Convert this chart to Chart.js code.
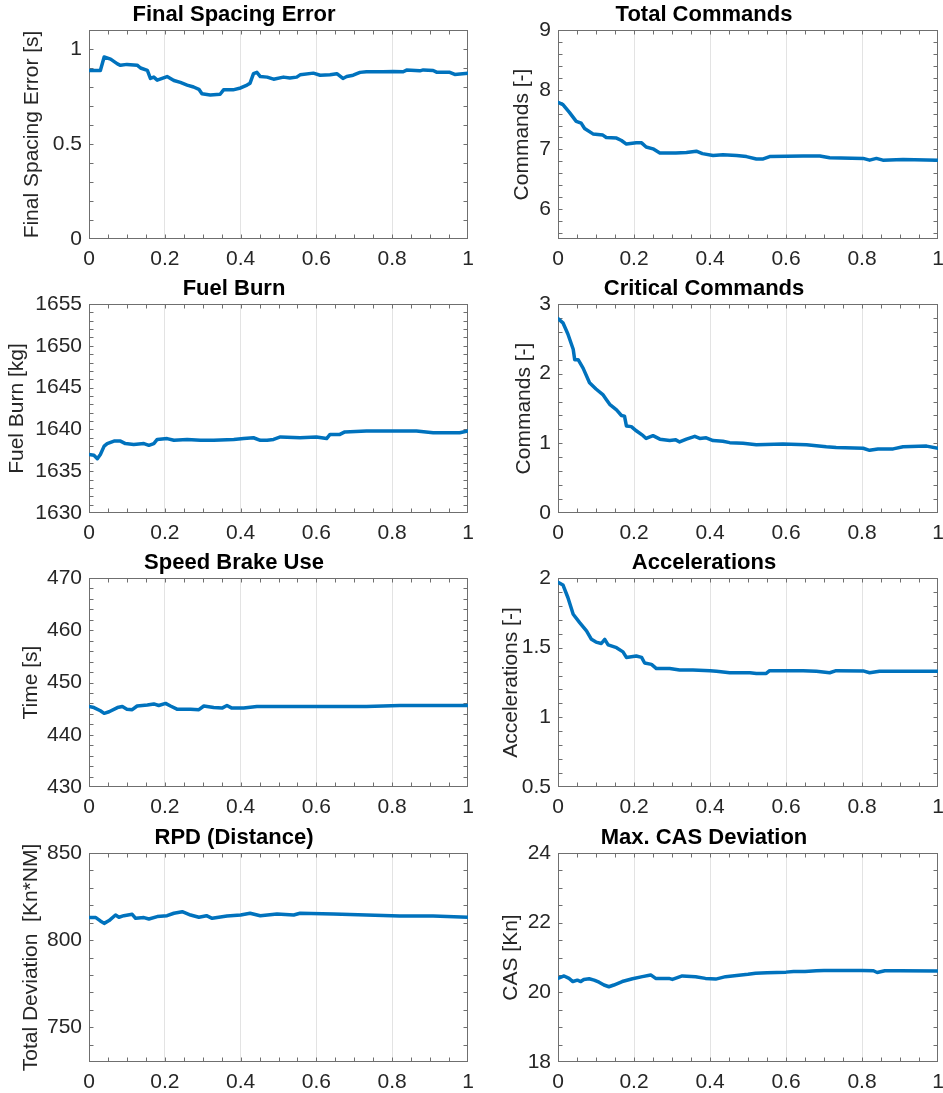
<!DOCTYPE html>
<html>
<head>
<meta charset="utf-8">
<script src="https://cdn.jsdelivr.net/npm/chart.js@4.4.1/dist/chart.umd.min.js"></script>
<style>
  body { margin: 0; background: #fff; }
  #page { position: relative; width: 943px; height: 1093px; overflow: hidden; background: #fff; }
  #page canvas { position: absolute; }
</style>
</head>
<body>
<div id="page"></div>
<script>
// values, x is the common 0..1 axis
const spacingX = [0, 0.03, 0.04, 0.057, 0.075, 0.083, 0.1, 0.127, 0.136, 0.154, 0.162, 0.171, 0.18, 0.206, 0.224, 0.241, 0.259, 0.276, 0.29, 0.298, 0.32, 0.346, 0.355, 0.38, 0.4, 0.417, 0.425, 0.434, 0.443, 0.452, 0.47, 0.487, 0.513, 0.53, 0.548, 0.557, 0.592, 0.61, 0.636, 0.654, 0.67, 0.68, 0.697, 0.715, 0.732, 0.776, 0.803, 0.829, 0.838, 0.873, 0.882, 0.908, 0.917, 0.952, 0.965, 1];
const spacingY = [0.887, 0.887, 0.958, 0.947, 0.922, 0.914, 0.919, 0.915, 0.9, 0.887, 0.845, 0.852, 0.836, 0.855, 0.834, 0.824, 0.81, 0.8, 0.788, 0.764, 0.758, 0.762, 0.785, 0.785, 0.795, 0.81, 0.82, 0.87, 0.877, 0.855, 0.852, 0.841, 0.852, 0.847, 0.852, 0.864, 0.873, 0.862, 0.864, 0.87, 0.845, 0.855, 0.862, 0.877, 0.88, 0.88, 0.882, 0.88, 0.889, 0.885, 0.89, 0.887, 0.878, 0.877, 0.866, 0.873];

const commandsX = [0, 0.013, 0.03, 0.048, 0.061, 0.07, 0.092, 0.118, 0.127, 0.154, 0.167, 0.18, 0.206, 0.22, 0.232, 0.25, 0.268, 0.31, 0.338, 0.364, 0.38, 0.408, 0.434, 0.47, 0.496, 0.522, 0.54, 0.557, 0.645, 0.689, 0.715, 0.803, 0.82, 0.838, 0.855, 0.908, 1];
const commandsY = [7.79, 7.75, 7.62, 7.47, 7.44, 7.35, 7.26, 7.24, 7.2, 7.19, 7.15, 7.09, 7.11, 7.11, 7.04, 7.01, 6.94, 6.94, 6.95, 6.97, 6.93, 6.9, 6.91, 6.9, 6.88, 6.84, 6.84, 6.88, 6.89, 6.89, 6.86, 6.85, 6.82, 6.85, 6.82, 6.83, 6.82];

const fuelX = [0, 0.013, 0.022, 0.03, 0.04, 0.048, 0.066, 0.083, 0.096, 0.118, 0.145, 0.158, 0.171, 0.18, 0.206, 0.224, 0.259, 0.294, 0.329, 0.382, 0.408, 0.434, 0.452, 0.47, 0.487, 0.505, 0.557, 0.6, 0.627, 0.636, 0.662, 0.675, 0.732, 0.82, 0.864, 0.908, 0.978, 1];
const fuelY = [1637.0, 1636.9, 1636.5, 1637.0, 1638.0, 1638.3, 1638.6, 1638.6, 1638.3, 1638.2, 1638.3, 1638.1, 1638.3, 1638.8, 1638.9, 1638.7, 1638.8, 1638.7, 1638.7, 1638.8, 1638.9, 1639.0, 1638.7, 1638.7, 1638.8, 1639.1, 1639.0, 1639.1, 1638.9, 1639.4, 1639.4, 1639.7, 1639.8, 1639.8, 1639.8, 1639.6, 1639.6, 1639.8];

const criticalX = [0, 0.013, 0.026, 0.04, 0.044, 0.053, 0.066, 0.083, 0.1, 0.118, 0.127, 0.136, 0.154, 0.167, 0.175, 0.18, 0.193, 0.206, 0.224, 0.232, 0.25, 0.268, 0.294, 0.31, 0.32, 0.338, 0.36, 0.373, 0.39, 0.408, 0.434, 0.452, 0.487, 0.522, 0.592, 0.654, 0.706, 0.732, 0.803, 0.82, 0.842, 0.882, 0.908, 0.97, 1];
const criticalY = [2.79, 2.73, 2.57, 2.35, 2.2, 2.2, 2.08, 1.87, 1.78, 1.7, 1.63, 1.56, 1.48, 1.4, 1.39, 1.25, 1.24, 1.18, 1.11, 1.07, 1.11, 1.06, 1.04, 1.05, 1.02, 1.06, 1.1, 1.07, 1.08, 1.04, 1.03, 1.01, 1.0, 0.98, 0.99, 0.98, 0.95, 0.94, 0.93, 0.9, 0.92, 0.92, 0.95, 0.96, 0.93];

const brakeX = [0, 0.013, 0.03, 0.04, 0.053, 0.075, 0.088, 0.1, 0.114, 0.127, 0.154, 0.171, 0.184, 0.202, 0.215, 0.232, 0.268, 0.29, 0.303, 0.329, 0.351, 0.364, 0.377, 0.408, 0.443, 0.513, 0.645, 0.732, 0.82, 1];
const brakeY = [445.4, 445.2, 444.6, 444.1, 444.4, 445.2, 445.4, 444.9, 444.8, 445.5, 445.7, 445.9, 445.6, 446.0, 445.5, 444.9, 444.9, 444.8, 445.5, 445.2, 445.1, 445.6, 445.1, 445.1, 445.4, 445.4, 445.4, 445.4, 445.6, 445.6];

const accelX = [0, 0.013, 0.026, 0.04, 0.057, 0.075, 0.088, 0.1, 0.114, 0.123, 0.132, 0.154, 0.171, 0.18, 0.206, 0.22, 0.228, 0.246, 0.259, 0.294, 0.32, 0.355, 0.4, 0.417, 0.452, 0.505, 0.522, 0.548, 0.557, 0.645, 0.68, 0.715, 0.732, 0.803, 0.82, 0.846, 1];
const accelY = [1.97, 1.95, 1.86, 1.74, 1.68, 1.62, 1.56, 1.54, 1.53, 1.56, 1.52, 1.5, 1.47, 1.43, 1.44, 1.43, 1.39, 1.38, 1.35, 1.35, 1.34, 1.34, 1.335, 1.33, 1.32, 1.32, 1.315, 1.315, 1.335, 1.335, 1.33, 1.32, 1.335, 1.333, 1.32, 1.33, 1.33];

const rpdX = [0, 0.018, 0.03, 0.04, 0.053, 0.07, 0.079, 0.092, 0.114, 0.123, 0.145, 0.158, 0.18, 0.206, 0.224, 0.246, 0.268, 0.29, 0.31, 0.325, 0.364, 0.4, 0.425, 0.452, 0.496, 0.54, 0.557, 0.645, 0.732, 0.82, 0.908, 1];
const rpdY = [812.9, 812.9, 811.0, 809.6, 811.2, 814.4, 813.1, 814.0, 814.8, 812.5, 812.9, 812.1, 813.5, 814.0, 815.4, 816.3, 814.4, 813.1, 814.0, 812.5, 813.8, 814.4, 815.4, 814.0, 815.0, 814.4, 815.4, 815.0, 814.4, 813.8, 813.8, 813.1];

const casX = [0, 0.016, 0.029, 0.039, 0.051, 0.06, 0.068, 0.082, 0.095, 0.108, 0.121, 0.134, 0.147, 0.169, 0.196, 0.222, 0.244, 0.257, 0.292, 0.301, 0.327, 0.362, 0.388, 0.415, 0.441, 0.476, 0.5, 0.52, 0.55, 0.6, 0.62, 0.65, 0.68, 0.7, 0.8, 0.83, 0.84, 0.86, 0.9, 1];
const casY = [20.40, 20.47, 20.40, 20.31, 20.35, 20.31, 20.37, 20.39, 20.35, 20.29, 20.21, 20.16, 20.21, 20.31, 20.39, 20.45, 20.5, 20.40, 20.40, 20.37, 20.47, 20.45, 20.40, 20.38, 20.45, 20.49, 20.52, 20.55, 20.56, 20.58, 20.60, 20.60, 20.62, 20.63, 20.63, 20.62, 20.57, 20.62, 20.62, 20.61];

const titles = ['Final Spacing Error', 'Total Commands', 'Fuel Burn', 'Critical Commands',
                'Speed Brake Use', 'Accelerations', 'RPD (Distance)', 'Max. CAS Deviation'];
const yTitles = ['Final Spacing Error [s]', 'Commands [-]', 'Fuel Burn [kg]', 'Commands [-]',
                 'Time [s]', 'Accelerations [-]', 'Total Deviation  [Kn*NM]', 'CAS [Kn]'];
const seriesX = [spacingX, commandsX, fuelX, criticalX, brakeX, accelX, rpdX, casX];
const seriesY = [spacingY, commandsY, fuelY, criticalY, brakeY, accelY, rpdY, casY];
// y axis limits and tick steps [min, max, step, minor step]
const yLimits = [[0, 1.1, 0.5, 0.1], [5.5, 9, 1, 0.2], [1630, 1655, 5, 1], [0, 3, 1, 0.2],
                 [430, 470, 10, 2], [0.5, 2, 0.5, 0.1], [730, 850, 50, 10], [18, 24, 2, 0.5]];
const xTickStep = 0.2;
const xMinorStep = 0.05;

const FONT = "'Liberation Sans', Arial, Helvetica, sans-serif";
const LINE_BLUE = '#0072BD';

// plain matlab-like numbers: 1 not 1.0, 1655 not 1,655
const plainNumber = v => String(Number(v.toFixed(6)));

// box + MATLAB style inward ticks on all four sides
const framePlugin = {
  id: 'frame',
  beforeDatasetsDraw(chart, args, opts) {
    const { ctx, chartArea: a, scales: { x, y } } = chart;
    const L = Math.round(a.left) + 0.5, R = Math.round(a.right) - 0.5;
    const T = Math.round(a.top) + 0.5, B = Math.round(a.bottom) - 0.5;
    ctx.save();
    ctx.strokeStyle = '#6f6f6f';
    ctx.lineWidth = 1;
    ctx.strokeRect(L, T, R - L, B - T);
    ctx.beginPath();
    let n = Math.round((x.max - x.min) / opts.xMinor);
    for (let i = 1; i < n; i++) {
      const px = Math.round(x.getPixelForValue(x.min + i * opts.xMinor)) + 0.5;
      ctx.moveTo(px, B); ctx.lineTo(px, B - 4);
      ctx.moveTo(px, T); ctx.lineTo(px, T + 4);
    }
    const start = Math.ceil(y.min / opts.yMinor - 1e-6) * opts.yMinor;
    n = Math.round((y.max - start) / opts.yMinor);
    for (let i = 0; i <= n; i++) {
      const py = Math.round(y.getPixelForValue(start + i * opts.yMinor)) + 0.5;
      if (py <= T + 1 || py >= B - 1) continue;
      ctx.moveTo(L, py); ctx.lineTo(L + 4, py);
      ctx.moveTo(R, py); ctx.lineTo(R - 4, py);
    }
    ctx.stroke();
    ctx.restore();
  }
};

// canvas placement: columns and rows of the 4x2 grid
const colLeft = [0, 470];
const colWidth = [486, 473];
const colPadRight = [18, 5];
const colAxisWidth = [89, 88];
const rowTop = [0, 274, 548, 823];
const rowHeight = [274, 274, 274, 270];
const yTitlePad = [20, 40, 5, 42, 19, 29, 19, 29];
const AREA_TOP = 30, AREA_BOTTOM = 239;
const TITLE_SIZE = 22;

const page = document.getElementById('page');

titles.forEach((title, i) => {
  const col = i % 2, row = Math.floor(i / 2);
  const canvas = document.createElement('canvas');
  canvas.width = colWidth[col];
  canvas.height = rowHeight[row];
  canvas.style.left = colLeft[col] + 'px';
  canvas.style.top = rowTop[row] + 'px';
  canvas.style.width = colWidth[col] + 'px';
  canvas.style.height = rowHeight[row] + 'px';
  page.appendChild(canvas);

  const xs = seriesX[i], ys = seriesY[i];
  const points = xs.map((x, k) => ({ x: x, y: ys[k] }));
  const [yMin, yMax, yStep, yMinor] = yLimits[i];

  new Chart(canvas.getContext('2d'), {
    type: 'line',
    data: {
      datasets: [{
        data: points,
        borderColor: LINE_BLUE,
        borderWidth: 3.5,
        pointRadius: 0,
        tension: 0,
        fill: false,
        borderJoinStyle: 'round',
        borderCapStyle: 'round'
      }]
    },
    options: {
      responsive: false,
      animation: false,
      devicePixelRatio: 1,
      layout: { padding: { top: 2, left: 0, right: colPadRight[col], bottom: 0 } },
      plugins: {
        legend: { display: false },
        tooltip: { enabled: false },
        title: {
          display: true,
          text: title,
          color: '#000',
          font: { family: FONT, size: TITLE_SIZE, weight: 'bold', lineHeight: 1.2 },
          padding: { top: 0, bottom: AREA_TOP - 2 - TITLE_SIZE * 1.2 }
        },
        frame: { xMinor: xMinorStep, yMinor: yMinor }
      },
      scales: {
        x: {
          type: 'linear',
          min: 0,
          max: 1,
          border: { display: false },
          grid: {
            drawTicks: false,
            lineWidth: 1,
            color: ctx => (ctx.tick && (ctx.tick.value === 0 || ctx.tick.value === 1)) ? 'rgba(0,0,0,0)' : '#e3e3e3'
          },
          ticks: {
            stepSize: xTickStep,
            padding: 8,
            maxRotation: 0,
            color: '#262626',
            font: { family: FONT, size: 21 },
            callback: plainNumber
          },
          afterFit: scale => {
            scale.height = rowHeight[row] - AREA_BOTTOM;
            scale.paddingLeft = 0;
            scale.paddingRight = 0;
          }
        },
        y: {
          type: 'linear',
          min: yMin,
          max: yMax,
          border: { display: false },
          grid: { display: false, drawTicks: false },
          ticks: {
            stepSize: yStep,
            includeBounds: false,
            padding: 7,
            color: '#262626',
            font: { family: FONT, size: 21 },
            callback: plainNumber
          },
          title: {
            display: true,
            text: yTitles[i],
            color: '#262626',
            font: { family: FONT, size: 21, lineHeight: 1.2 },
            padding: { top: yTitlePad[i], bottom: 0 }
          },
          afterFit: scale => {
            scale.width = colAxisWidth[col];
            scale.paddingTop = 0;
            scale.paddingBottom = 0;
          }
        }
      }
    },
    plugins: [framePlugin]
  });
});
</script>
</body>
</html>
